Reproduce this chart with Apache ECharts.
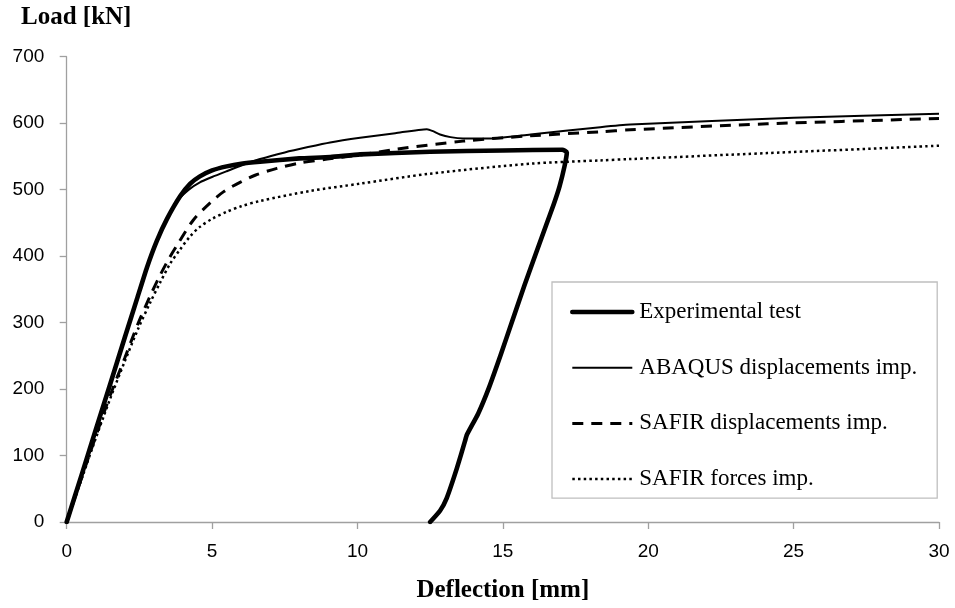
<!DOCTYPE html>
<html>
<head>
<meta charset="utf-8">
<script src="https://cdn.jsdelivr.net/npm/echarts@6/dist/echarts.min.js"></script>
<style>
html,body{margin:0;padding:0;background:#fff;}
#chart{width:955px;height:608px;}
</style>
</head>
<body>
<div id="chart"></div>
<script>
// Axis settings
const xTicks = [0, 5, 10, 15, 20, 25, 30];
const yTicks = [0, 100, 200, 300, 400, 500, 600, 700];
const seriesNames = ['Experimental test', 'ABAQUS displacements imp.', 'SAFIR displacements imp.', 'SAFIR forces imp.'];

// [deflection mm, load kN]
const experimental = [
  [0,0],[0.5,69],[1.0,139],[1.5,208],[2.0,278],[2.42,336],[2.76,383],[3.1,423],[3.45,456],
  [3.9,490],[4.25,509],[4.58,520],[5.0,529],[5.5,535],[6.0,539],[6.65,542],[8,547],[9.07,549],
  [10.09,553],[12.5,557],[15,559],[17.05,560],[17.2,556],[17.12,535],[16.95,505],[16.75,478],
  [16.5,448],[16.17,408],[15.75,357],[15.32,302],[14.93,252],[14.53,203],[14.15,163],
  [13.76,131],[13.7,122],[13.42,81],[13.07,36],[12.84,17],[12.5,0]
];
const abaqus = [
  [0,0],[0.5,69],[1.0,139],[1.5,208],[2.0,278],[2.42,336],[2.76,383],[3.1,423],[3.45,455],
  [3.78,482],[4.2,500],[4.58,511],[5.0,519],[5.52,528],[6.05,537],[6.65,546],[7.5,556],
  [8.3,564],[9.06,571],[10.09,578],[11.3,585],[12.39,591],[12.6,588],[12.84,583],[13.2,579],
  [13.63,577],[14.56,577],[15.95,583],[18.35,594],[19.38,598],[25,608],[30,614]
];
const safirDisp = [
  [0,0],[0.5,65],[1.0,129],[1.5,191],[2.0,247],[2.45,298],[2.87,340],[3.21,371],[3.5,395],
  [3.79,416],[4.35,454],[4.93,480],[5.4,497],[5.96,511],[6.5,522],[7.23,532],[8.0,540],
  [8.96,546],[10.09,552],[11.36,561],[13.63,573],[15.95,581],[18.35,587],[19.38,590],
  [24.09,599],[30,607]
];
const safirForce = [
  [0,0],[0.5,63],[1.0,126],[1.5,186],[2.0,242],[2.45,290],[2.87,330],[3.21,360],[3.55,388],
  [3.9,410],[4.25,430],[4.58,444],[5.0,456],[5.52,467],[6.0,475],[6.65,483],[8.37,498],
  [10.09,509],[12.5,524],[15.95,539],[18.35,544],[19.38,546],[24.09,555],[30,566]
];

const chart = echarts.init(document.getElementById('chart'), null, {renderer: 'canvas'});
const axisGray = '#a0a0a0';
const tickFont = {fontFamily: 'Liberation Sans', fontSize: 19, color: '#000'};

const styles = [
  {color: '#000', width: 4.6, cap: 'round', join: 'round'},
  {color: '#000', width: 2},
  {color: '#000', width: 3, type: [11, 8]},
  {color: '#000', width: 2.5, type: [2.5, 3.2]}
];

chart.setOption({
  animation: false,
  backgroundColor: '#fff',
  title: {
    text: 'Load [kN]', left: 21, top: 5.5, padding: 0,
    textStyle: {fontFamily: 'Liberation Serif', fontWeight: 'bold', fontSize: 25, color: '#000', lineHeight: 25}
  },
  grid: {left: 66.7, right: 16, top: 56.7, bottom: 83.7, containLabel: false},
  legend: {
    orient: 'vertical', left: 552, top: 282,
    padding: [18, 20, 7, 18],
    itemGap: 31.7, itemWidth: 60, itemHeight: 24,
    backgroundColor: '#fff', borderColor: '#bfbfbf', borderWidth: 1.3, borderRadius: 0,
    itemStyle: {color: 'rgba(0,0,0,0)', borderWidth: 0, opacity: 0},
    textStyle: {fontFamily: 'Liberation Serif', fontSize: 23, color: '#000', lineHeight: 24, padding: [0,0,0,2]},
    data: seriesNames.map((n, i) => ({name: n, lineStyle: Object.assign({}, styles[i]), itemStyle: {opacity: 0}}))
  },
  xAxis: {
    type: 'value', min: xTicks[0], max: xTicks[xTicks.length-1], interval: 5,
    name: 'Deflection [mm]', nameLocation: 'middle', nameGap: 56,
    nameTextStyle: {fontFamily: 'Liberation Serif', fontWeight: 'bold', fontSize: 25, color: '#000', lineHeight: 25},
    axisLine: {show: true, lineStyle: {color: axisGray, width: 1.3}},
    axisTick: {show: true, length: 7, lineStyle: {color: axisGray, width: 1.3}},
    splitLine: {show: false},
    axisLabel: Object.assign({margin: 20, lineHeight: 19}, tickFont)
  },
  yAxis: {
    type: 'value', min: yTicks[0], max: yTicks[yTicks.length-1], interval: 100,
    axisLine: {show: true, lineStyle: {color: axisGray, width: 1.3}},
    axisTick: {show: true, length: 7, lineStyle: {color: axisGray, width: 1.3}},
    splitLine: {show: false},
    axisLabel: Object.assign({margin: 22.4}, tickFont)
  },
  series: [
    {
      name: seriesNames[0], type: 'line', data: experimental, symbol: 'none', smooth: 0.15, z: 4,
      lineStyle: styles[0], itemStyle: {color: '#000'}
    },
    {
      name: seriesNames[1], type: 'line', data: abaqus, symbol: 'none', smooth: 0.2, z: 3,
      lineStyle: styles[1], itemStyle: {color: '#000'}
    },
    {
      name: seriesNames[2], type: 'line', data: safirDisp, symbol: 'none', smooth: 0.3, z: 2,
      lineStyle: styles[2], itemStyle: {color: '#000'}
    },
    {
      name: seriesNames[3], type: 'line', data: safirForce, symbol: 'none', smooth: 0.3, z: 1,
      lineStyle: styles[3], itemStyle: {color: '#000'}
    }
  ]
});
</script>
</body>
</html>
